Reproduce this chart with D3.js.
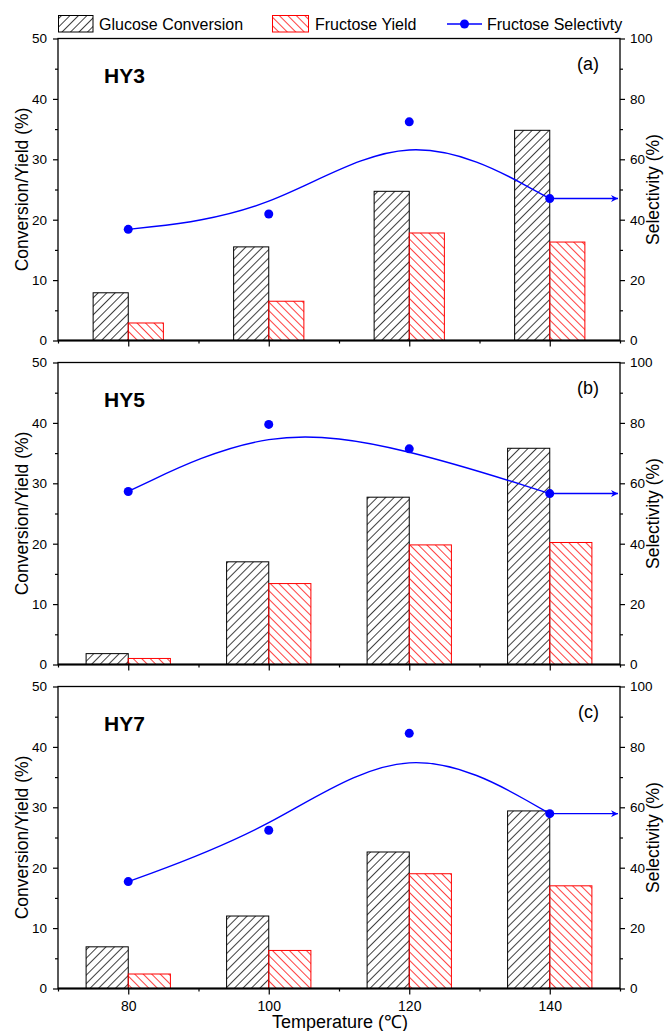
<script src="https://cdn.jsdelivr.net/npm/d3@7"></script>
<body>
<script>
    // temperatures (x) and the three catalysts
    var temps = [80, 100, 120, 140];
    var catalysts = ["HY3", "HY5", "HY7"];
    var panelTags = ["(a)", "(b)", "(c)"];

    var conversionHY3 = [7.9, 15.5, 24.7, 34.8];
    var yieldHY3 = [2.9, 6.5, 17.8, 16.3];
    var selectivityHY3 = [36.8, 41.9, 72.4, 47.0];

    var conversionHY5 = [1.8, 17.0, 27.7, 35.8];
    var yieldHY5 = [1.0, 13.4, 19.8, 20.2];
    var selectivityHY5 = [57.3, 79.5, 71.4, 56.6];

    var conversionHY7 = [6.9, 12.0, 22.6, 29.4];
    var yieldHY7 = [2.4, 6.3, 19.0, 17.0];
    var selectivityHY7 = [35.4, 52.4, 84.5, 57.9];

    var leftTicks = [0, 10, 20, 30, 40, 50];
    var leftMinor = [5, 15, 25, 35, 45];
    var rightTicks = [0, 20, 40, 60, 80, 100];
    var rightMinor = [10, 30, 50, 70, 90];
    var xTicks = [80, 100, 120, 140];
    var xMinor = [70, 90, 110, 130, 150];

    var legendLabels = ["Glucose Conversion", "Fructose Yield", "Fructose Selectivty"];

    var panels = [
        {conv: conversionHY3, yld: yieldHY3, sel: selectivityHY3, barW: 5},
        {conv: conversionHY5, yld: yieldHY5, sel: selectivityHY5, barW: 6},
        {conv: conversionHY7, yld: yieldHY7, sel: selectivityHY7, barW: 6}
    ];

    var W = 666, H = 1031;
    var left = 58, right = 620;
    var panelTop = 38.5, panelH = 302, panelStep = 324;
    var font = "'Liberation Sans', Arial, sans-serif";
    var blue = "#0000ff";

    var svg = d3.select("body")
        .append("svg")
        .attr("width", W)
        .attr("height", H)
        .style("font-family", font);

    // hatch patterns
    var defs = svg.append("defs");
    function hatch(id, color, angle) {
        defs.append("pattern")
            .attr("id", id)
            .attr("patternUnits", "userSpaceOnUse")
            .attr("width", 6)
            .attr("height", 6)
            .attr("patternTransform", "rotate(" + angle + ")")
            .append("line")
            .attr("x1", 0).attr("y1", -1)
            .attr("x2", 0).attr("y2", 7)
            .attr("stroke", color)
            .attr("stroke-width", 1.5);
    }
    hatch("hatchBlack", "#000", 45);
    hatch("hatchRed", "#ff0000", -45);

    defs.append("marker")
        .attr("id", "arrow")
        .attr("viewBox", "0 0 10 10")
        .attr("refX", 10).attr("refY", 5)
        .attr("markerWidth", 10).attr("markerHeight", 7)
        .attr("markerUnits", "userSpaceOnUse")
        .attr("orient", "auto")
        .append("path")
        .attr("d", "M0,0 L10,5 L0,10 L3,5 Z")
        .attr("fill", blue);

    var x = d3.scaleLinear().domain([70, 150]).range([left, right]);

    panels.forEach(function(p, i) {
        var top = panelTop + i * panelStep;
        var bottom = top + panelH;
        var yL = d3.scaleLinear().domain([0, 50]).range([bottom, top]);
        var yR = d3.scaleLinear().domain([0, 100]).range([bottom, top]);
        var g = svg.append("g");

        // bars
        var bw = x(70 + p.barW) - x(70);
        g.selectAll(".conv")
            .data(p.conv)
            .enter().append("rect")
            .attr("x", function(d, j) { return x(temps[j]) - bw; })
            .attr("y", function(d) { return yL(d); })
            .attr("width", bw)
            .attr("height", function(d) { return yL(0) - yL(d); })
            .attr("fill", "url(#hatchBlack)")
            .attr("stroke", "#000")
            .attr("stroke-width", 1);
        g.selectAll(".yld")
            .data(p.yld)
            .enter().append("rect")
            .attr("x", function(d, j) { return x(temps[j]); })
            .attr("y", function(d) { return yL(d); })
            .attr("width", bw)
            .attr("height", function(d) { return yL(0) - yL(d); })
            .attr("fill", "url(#hatchRed)")
            .attr("stroke", "#ff0000")
            .attr("stroke-width", 1);

        // selectivity: b-spline line, points, arrow to right axis
        var line = d3.line()
            .x(function(d, j) { return x(temps[j]); })
            .y(function(d) { return yR(d); })
            .curve(d3.curveBasis);
        g.append("path")
            .attr("d", line(p.sel))
            .attr("fill", "none")
            .attr("stroke", blue)
            .attr("stroke-width", 1.4);
        var last = p.sel[p.sel.length - 1];
        g.append("line")
            .attr("x1", x(temps[temps.length - 1]))
            .attr("x2", right - 2)
            .attr("y1", yR(last))
            .attr("y2", yR(last))
            .attr("stroke", blue)
            .attr("stroke-width", 1.4)
            .attr("marker-end", "url(#arrow)");
        g.selectAll(".pt")
            .data(p.sel)
            .enter().append("circle")
            .attr("cx", function(d, j) { return x(temps[j]); })
            .attr("cy", function(d) { return yR(d); })
            .attr("r", 4.5)
            .attr("fill", blue);

        // axes
        function axisStyle(sel) {
            sel.select(".domain").remove();
            sel.selectAll("line").attr("stroke-width", 1.2);
            sel.selectAll("text").style("font-family", font).style("font-size", "13.5px").attr("fill", "#000");
        }
        g.append("g").attr("transform", "translate(" + left + ",0)")
            .call(d3.axisLeft(yL).tickValues(leftTicks).tickSize(5).tickPadding(6))
            .call(axisStyle);
        g.append("g").attr("transform", "translate(" + left + ",0)")
            .call(d3.axisLeft(yL).tickValues(leftMinor).tickSize(3).tickFormat(""))
            .call(axisStyle);
        g.append("g").attr("transform", "translate(" + right + ",0)")
            .call(d3.axisRight(yR).tickValues(rightTicks).tickSize(5).tickPadding(5))
            .call(axisStyle);
        g.append("g").attr("transform", "translate(" + right + ",0)")
            .call(d3.axisRight(yR).tickValues(rightMinor).tickSize(3).tickFormat(""))
            .call(axisStyle);
        var xAxis = d3.axisBottom(x).tickValues(xTicks).tickSize(6).tickPadding(7);
        if (i < panels.length - 1) xAxis.tickFormat("");
        g.append("g").attr("transform", "translate(0," + bottom + ")")
            .call(xAxis)
            .call(axisStyle)
            .selectAll("text").style("font-size", "14px");
        g.append("g").attr("transform", "translate(0," + bottom + ")")
            .call(d3.axisBottom(x).tickValues(xMinor).tickSize(3).tickFormat(""))
            .call(axisStyle);

        // frame
        g.append("rect")
            .attr("x", left).attr("y", top)
            .attr("width", right - left).attr("height", panelH)
            .attr("fill", "none")
            .attr("stroke", "#000")
            .attr("stroke-width", 1.3);
        g.append("line")
            .attr("x1", left).attr("x2", right)
            .attr("y1", bottom).attr("y2", bottom)
            .attr("stroke", "#000").attr("stroke-width", 1.8);

        // titles
        g.append("text")
            .attr("transform", "translate(28," + (top + panelH / 2) + ") rotate(-90)")
            .attr("text-anchor", "middle")
            .style("font-size", "17.5px")
            .text("Conversion/Yield (%)");
        g.append("text")
            .attr("transform", "translate(659," + (top + panelH / 2) + ") rotate(-90)")
            .attr("text-anchor", "middle")
            .style("font-size", "17.5px")
            .text("Selectivity (%)");
        g.append("text")
            .attr("x", 104).attr("y", top + 44.5)
            .style("font-size", "21px")
            .style("font-weight", "bold")
            .text(catalysts[i]);
        g.append("text")
            .attr("x", 599).attr("y", top + 31)
            .attr("text-anchor", "end")
            .style("font-size", "18px")
            .text(panelTags[i]);
    });

    svg.append("text")
        .attr("x", 340).attr("y", 1028)
        .attr("text-anchor", "middle")
        .style("font-size", "18px")
        .text("Temperature (\u2103)");

    // legend
    var lg = svg.append("g");
    lg.append("rect").attr("x", 58.5).attr("y", 15.5).attr("width", 34.5).attr("height", 16.5)
        .attr("fill", "url(#hatchBlack)").attr("stroke", "#000");
    lg.append("text").attr("x", 99).attr("y", 30).style("font-size", "16px").text(legendLabels[0]);
    lg.append("rect").attr("x", 272.5).attr("y", 15.5).attr("width", 36).attr("height", 16.5)
        .attr("fill", "url(#hatchRed)").attr("stroke", "#ff0000");
    lg.append("text").attr("x", 315).attr("y", 30).style("font-size", "16px").text(legendLabels[1]);
    lg.append("line").attr("x1", 447).attr("x2", 482).attr("y1", 24).attr("y2", 24)
        .attr("stroke", blue).attr("stroke-width", 1.4);
    lg.append("circle").attr("cx", 464.5).attr("cy", 24).attr("r", 4.5).attr("fill", blue);
    lg.append("text").attr("x", 487).attr("y", 30).style("font-size", "16px").text(legendLabels[2]);
</script>
</body>
<style>
    body { margin: 0; }
    svg { background-color: white; display: block; }
</style>
